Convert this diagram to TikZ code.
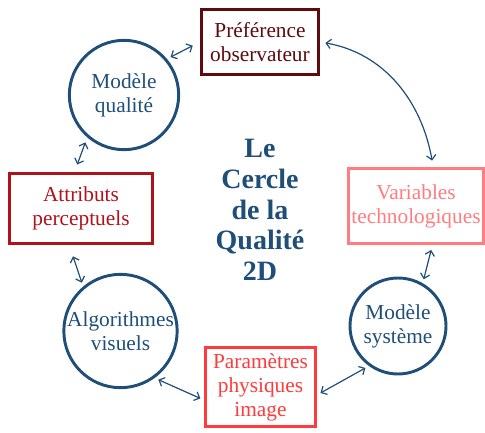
\documentclass[tikz,border=0pt]{standalone}
\usepackage{fontspec}
\setmainfont{Liberation Serif}
\usepackage{xcolor}
\usepackage{tikz}
\usetikzlibrary{arrows.meta}
\definecolor{qualBlue}{HTML}{1F4E79}
\definecolor{prefMaroon}{HTML}{5E0B10}
\definecolor{attrRed}{HTML}{B0121B}
\definecolor{varPink}{HTML}{FF7C80}
\definecolor{paramRed}{HTML}{FF3B3B}
\tikzset{
  qualcircle/.style={circle, draw=qualBlue, line width=2.2pt, text=qualBlue, align=center, font=\fontsize{16}{18}\selectfont, inner sep=0pt, minimum size=#1},
  qualbox/.style={rectangle, draw=#1, line width=2.2pt, text=#1, align=center, font=\fontsize{16}{18}\selectfont, inner sep=0pt},
  biarrow/.style={<->, >={Straight Barb[length=3.5pt,width=7pt]}, line width=0.9pt, draw=qualBlue},
  titletext/.style={font=\bfseries\fontsize{21}{23}\selectfont, text=qualBlue, align=center},
}
\begin{document}
\begin{tikzpicture}[x=0.75pt,y=-0.75pt]
  \useasboundingbox (0,0) rectangle (485,432);

  \node[qualbox=prefMaroon, minimum width=88pt, minimum height=49pt] (pref) at (260,42) {Préférence\\observateur};
  \node[qualcircle=82pt] (mq) at (124,95) {Modèle\\qualité};
  \node[qualbox=attrRed, minimum width=107pt, minimum height=52.5pt] (attr) at (81,208.5) {Attributs\\perceptuels};
  \node[qualbox=varPink, minimum width=101pt, minimum height=56pt] (var) at (416,206) {Variables\\technologiques};
  \node[qualcircle=85pt] (alg) at (120.5,331) {Algorithmes\\visuels};
  \node[qualcircle=72pt] (ms) at (398,326) {Modèle\\système};
  \node[qualbox=paramRed, minimum width=82.5pt, minimum height=59pt] (par) at (260.5,387) {Paramètres\\physiques\\image};

  \node[titletext] (title) at (260,210) {Le\\Cercle\\de la\\Qualité\\2D};

  \draw[biarrow, shorten <=3pt, shorten >=6pt] (mq.40) -- (pref.west);
  \draw[biarrow, shorten <=4pt, shorten >=5pt] (pref.east) to[out=-10,in=100] (var.66);
  \draw[biarrow, shorten <=4pt, shorten >=6pt] (mq.229) -- (attr.100);
  \draw[biarrow, shorten <=9pt, shorten >=3pt] (attr.252) -- (alg.130);
  \draw[biarrow, shorten <=4pt, shorten >=3pt] (var.293) -- (ms.60);
  \draw[biarrow, shorten <=3pt, shorten >=3pt] (alg.-54) -- (par.193);
  \draw[biarrow, shorten <=3pt, shorten >=3pt] (par.-8) -- (ms.234);
\end{tikzpicture}
\end{document}
